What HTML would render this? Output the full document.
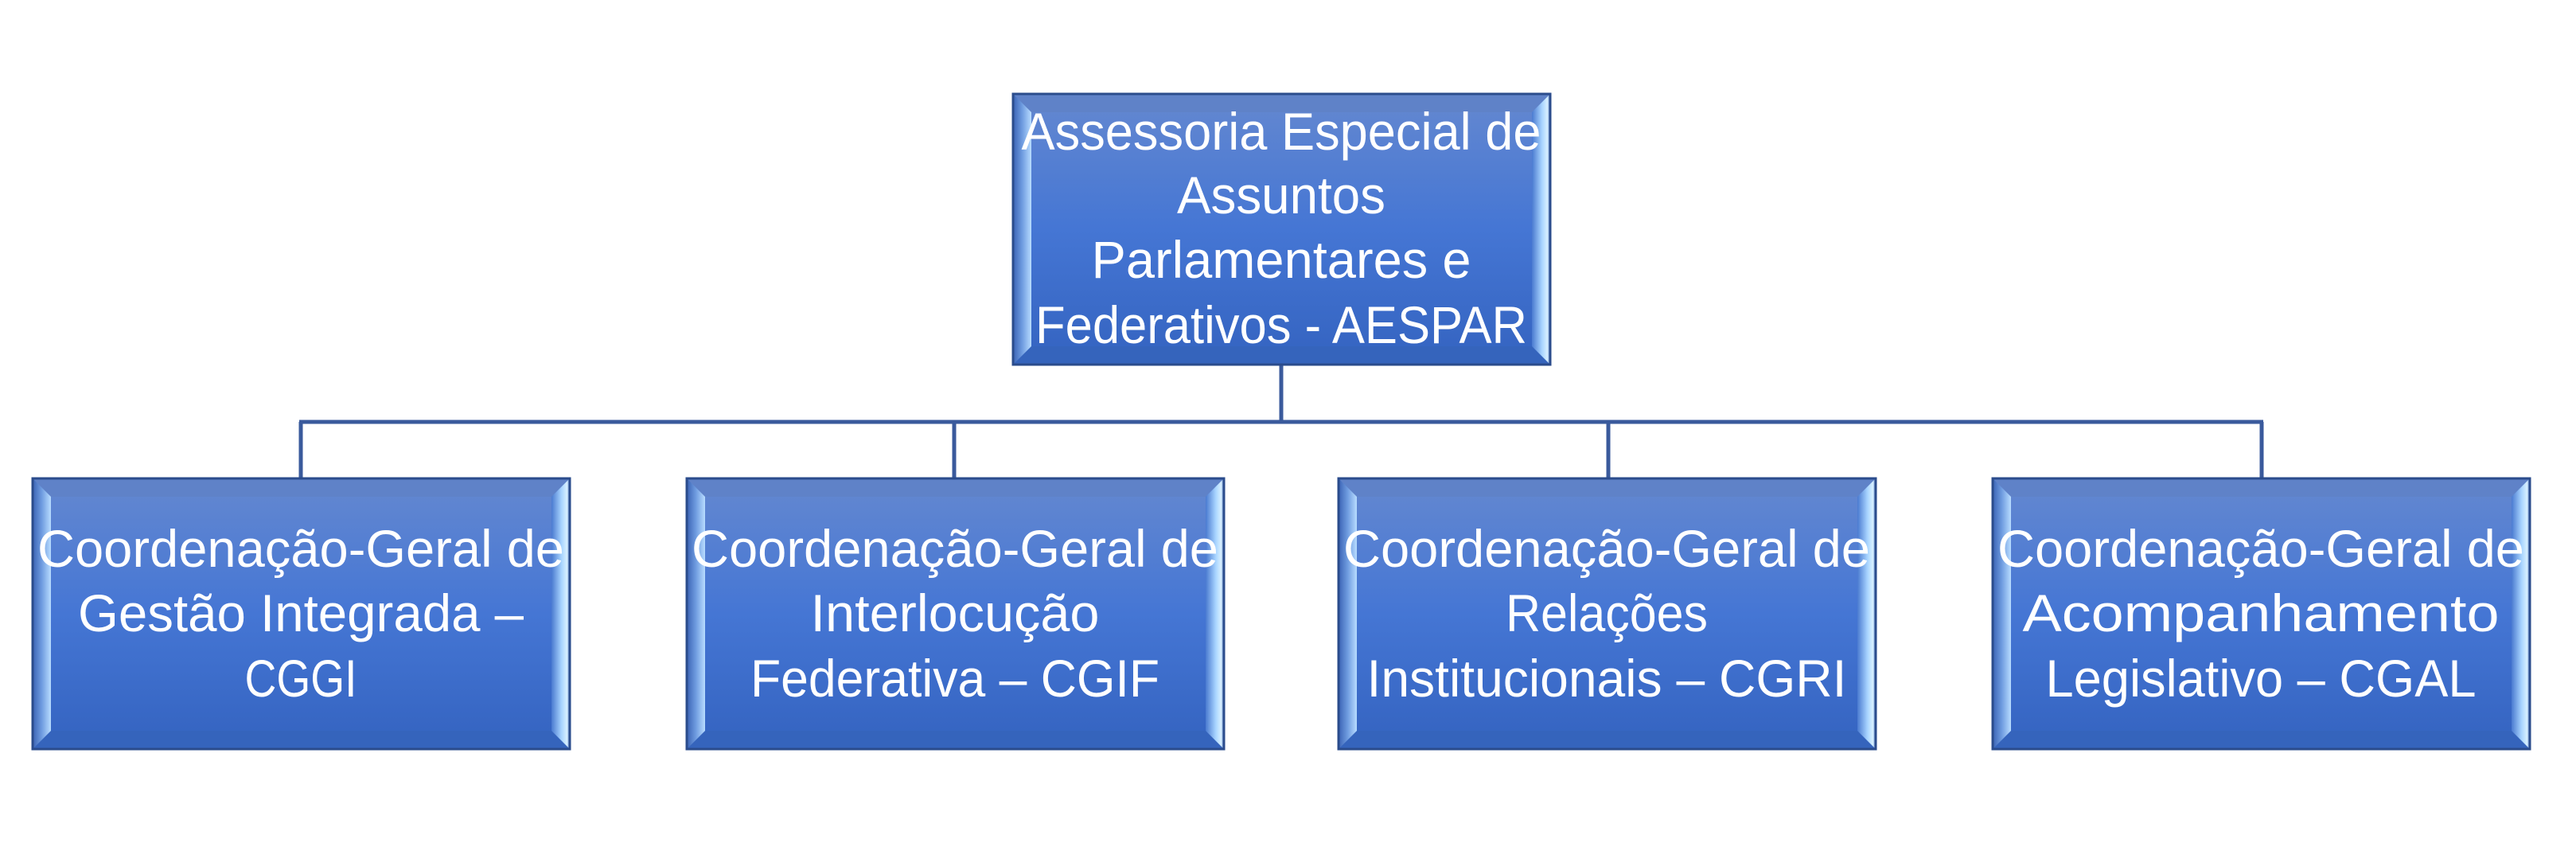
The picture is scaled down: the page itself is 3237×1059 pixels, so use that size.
<!DOCTYPE html>
<html><head><meta charset="utf-8">
<style>
html,body{margin:0;padding:0;background:#fff;}
svg{display:block;}
text{font-family:"Liberation Sans",sans-serif;fill:#fff;font-size:66px;}
</style></head>
<body>
<svg width="3237" height="1059" viewBox="0 0 3237 1059" xmlns="http://www.w3.org/2000/svg">
<defs>
<linearGradient id="body" x1="0" y1="0" x2="0" y2="1">
<stop offset="0" stop-color="#6488d0"/><stop offset="0.5" stop-color="#4576d4"/><stop offset="1" stop-color="#3463c0"/>
</linearGradient>
<linearGradient id="lb" x1="0" y1="0" x2="1" y2="0">
<stop offset="0" stop-color="#3a62b4"/><stop offset="0.5" stop-color="#6f9ce0"/><stop offset="1" stop-color="#b8dcff"/>
</linearGradient>
<linearGradient id="rb" x1="0" y1="0" x2="1" y2="0">
<stop offset="0" stop-color="#4a7ad0"/><stop offset="0.55" stop-color="#a8d4ff"/><stop offset="0.85" stop-color="#d8f0ff"/><stop offset="1" stop-color="#4a74c0"/>
</linearGradient>
<g id="box">
<rect x="0" y="0" width="675" height="340" fill="url(#body)"/>
<polygon points="0,0 675,0 652,23 23,23" fill="#5f82c8"/>
<polygon points="0,340 675,340 652,317 23,317" fill="#3564bc"/>
<polygon points="0,0 23,23 23,317 0,340" fill="url(#lb)"/>
<polygon points="675,0 652,23 652,317 675,340" fill="url(#rb)"/>
<rect x="0" y="0" width="675" height="340" fill="none" stroke="#2b4c8c" stroke-width="3"/>
</g>
</defs>
<g stroke="#3a5a9c" stroke-width="5" fill="none">
<line x1="1610" y1="458" x2="1610" y2="530"/>
<line x1="376" y1="530" x2="2844" y2="530"/>
<line x1="378" y1="530" x2="378" y2="601"/>
<line x1="1199" y1="530" x2="1199" y2="601"/>
<line x1="2021" y1="530" x2="2021" y2="601"/>
<line x1="2842" y1="530" x2="2842" y2="601"/>
</g>
<use href="#box" transform="translate(1273,118)"/>
<use href="#box" transform="translate(41,601)"/>
<use href="#box" transform="translate(863,601)"/>
<use href="#box" transform="translate(1682,601)"/>
<use href="#box" transform="translate(2504,601)"/>

<g text-anchor="middle">
<text x="1610" y="188" textLength="653" lengthAdjust="spacingAndGlyphs">Assessoria Especial de</text>
<text x="1610" y="268" textLength="262" lengthAdjust="spacingAndGlyphs">Assuntos</text>
<text x="1610" y="349" textLength="477" lengthAdjust="spacingAndGlyphs">Parlamentares e</text>
<text x="1610" y="431" textLength="618" lengthAdjust="spacingAndGlyphs">Federativos - AESPAR</text>

<text x="378" y="712" textLength="662" lengthAdjust="spacingAndGlyphs">Coordenação-Geral de</text>
<text x="378" y="793" textLength="560" lengthAdjust="spacingAndGlyphs">Gestão Integrada –</text>
<text x="378" y="875" textLength="141" lengthAdjust="spacingAndGlyphs">CGGI</text>

<text x="1200" y="712" textLength="662" lengthAdjust="spacingAndGlyphs">Coordenação-Geral de</text>
<text x="1200" y="793" textLength="363" lengthAdjust="spacingAndGlyphs">Interlocução</text>
<text x="1200" y="875" textLength="514" lengthAdjust="spacingAndGlyphs">Federativa – CGIF</text>

<text x="2019" y="712" textLength="662" lengthAdjust="spacingAndGlyphs">Coordenação-Geral de</text>
<text x="2019" y="793" textLength="254" lengthAdjust="spacingAndGlyphs">Relações</text>
<text x="2019" y="875" textLength="603" lengthAdjust="spacingAndGlyphs">Institucionais – CGRI</text>

<text x="2841" y="712" textLength="662" lengthAdjust="spacingAndGlyphs">Coordenação-Geral de</text>
<text x="2841" y="793" textLength="599" lengthAdjust="spacingAndGlyphs">Acompanhamento</text>
<text x="2841" y="875" textLength="541" lengthAdjust="spacingAndGlyphs">Legislativo – CGAL</text>
</g>
</svg>
</body></html>
